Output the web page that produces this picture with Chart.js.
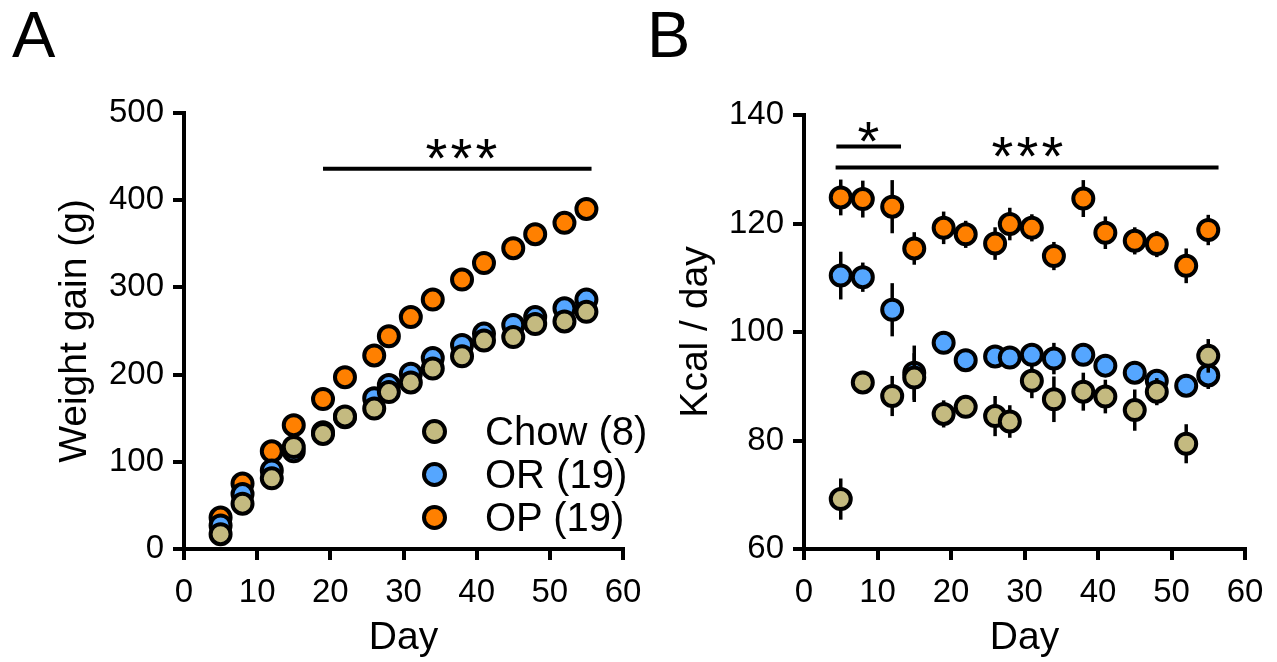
<!DOCTYPE html>
<html>
<head>
<meta charset="utf-8">
<script src="https://cdn.jsdelivr.net/npm/chart.js@4.4.1/dist/chart.umd.min.js"></script>
<style>
  body { margin: 0; background: #fff; font-family: "Liberation Sans", Arial, sans-serif; }
  #wrap { position: relative; width: 1277px; height: 662px; overflow: hidden; }
  canvas { position: absolute; top: 0; }
  .letter { position: absolute; font-size: 65px; line-height: 65px; color: #000; }
  #legendA { position: absolute; left: 422px; top: 410px; }
  .row { display: flex; align-items: center; height: 43px; font-size: 40px; line-height: 43px; color: #000; white-space: nowrap; }
  .dot { width: 17px; height: 17px; border: 4px solid #000; border-radius: 50%; margin-right: 38px; }
</style>
</head>
<body>
<div id="wrap">
  <div class="letter" style="left:12px; top:2px;">A</div>
  <div class="letter" style="left:647px; top:2px;">B</div>
  <canvas id="chartA" width="660" height="662" style="left:0;"></canvas>
  <canvas id="chartB" width="637" height="662" style="left:640px;"></canvas>
  <div id="legendA"></div>
</div>
<script>
const days = [5, 8, 12, 15, 19, 22, 26, 28, 31, 34, 38, 41, 45, 48, 52, 55];
const groupNames = ['Chow (8)', 'OR (19)', 'OP (19)'];
const groupColors = ['#C4BA80', '#55A6FF', '#FF8000'];
const xTicks = [0, 10, 20, 30, 40, 50, 60];

// A: weight gain (g)
const gainChow = [17, 52, 81, 117, 132, 152, 161, 180, 191, 207, 221, 239, 243, 258, 261, 272];
const gainOR = [27, 63, 90, 112, 134, 151, 173, 188, 201, 219, 234, 247, 257, 266, 276, 286];
const gainOP = [36, 75, 112, 142, 172, 197, 222, 244, 266, 286, 309, 328, 345, 361, 374, 390];
const yTicksA = [0, 100, 200, 300, 400, 500];

// B: intake (kcal / day) +- SEM
const kcalChow = [69.2, 90.7, 88.2, 91.6, 84.9, 86.2, 84.5, 83.5, 91.0, 87.6, 89.0, 88.1, 85.6, 89.0, 79.4, 95.6];
const semChow = [3.8, 1.5, 3.7, 4.5, 2.5, 2.0, 3.7, 3.0, 3.2, 4.2, 3.5, 3.1, 3.8, 2.5, 3.6, 3.1];
const kcalOR = [110.4, 110.1, 104.1, 92.5, 98.0, 94.8, 95.5, 95.3, 95.8, 95.1, 95.8, 93.8, 92.5, 91.0, 90.1, 92.0];
const semOR = [4.4, 2.7, 4.9, 5.0, 1.5, 1.5, 1.5, 1.5, 2.0, 2.9, 1.5, 2.0, 2.0, 2.0, 1.5, 2.5];
const kcalOP = [124.8, 124.5, 123.1, 115.4, 119.2, 118.0, 116.3, 119.9, 119.2, 114.0, 124.6, 118.3, 116.8, 116.2, 112.2, 118.8];
const semOP = [3.3, 3.4, 4.9, 3.0, 3.0, 2.5, 3.0, 3.0, 2.5, 2.6, 3.4, 3.0, 2.5, 2.4, 3.2, 2.8];
const yTicksB = [60, 80, 100, 120, 140];

// significance marks: [xStart, xEnd, y] and [text, x, y(baseline)]
const sigBarsA = [[19, 55.7, 436]];
const sigTextA = [['***', 37.9, 426.5]];
const sigBarsB = [[4.4, 13.2, 134.2], [4.3, 56.4, 130.3]];
const sigTextB = [['*', 8.75, 131.7], ['***', 30.4, 129.0]];

Chart.defaults.font.family = '"Liberation Sans", Arial, sans-serif';
Chart.defaults.color = '#000';

// vertical SEM whiskers, drawn just under each dataset's own markers
const errorBars = {
  id: 'errorBars',
  beforeDatasetDraw(chart, args) {
    const ds = chart.data.datasets[args.index];
    if (!ds.sem) return;
    const { ctx, scales: { x, y } } = chart;
    ctx.save();
    ctx.strokeStyle = '#000';
    ctx.lineWidth = 3.5;
    ds.data.forEach((p, i) => {
      const px = x.getPixelForValue(p.x);
      ctx.beginPath();
      ctx.moveTo(px, y.getPixelForValue(p.y - ds.sem[i]));
      ctx.lineTo(px, y.getPixelForValue(p.y + ds.sem[i]));
      ctx.stroke();
    });
    ctx.restore();
  }
};

function sigMarks(bars, texts) {
  return {
    id: 'sigMarks',
    afterDatasetsDraw(chart) {
      const { ctx, scales: { x, y } } = chart;
      ctx.save();
      ctx.strokeStyle = '#000';
      ctx.lineWidth = 4;
      bars.forEach(b => {
        const py = y.getPixelForValue(b[2]);
        ctx.beginPath();
        ctx.moveTo(x.getPixelForValue(b[0]), py);
        ctx.lineTo(x.getPixelForValue(b[1]), py);
        ctx.stroke();
      });
      ctx.fillStyle = '#000';
      ctx.font = '56px "Liberation Sans", Arial, sans-serif';
      ctx.textBaseline = 'alphabetic';
      ctx.textAlign = 'center';
      texts.forEach(t => {
        const cx = x.getPixelForValue(t[1]);
        const py = y.getPixelForValue(t[2]);
        const n = t[0].length;
        for (let k = 0; k < n; k++) {
          ctx.fillText('*', cx + (k - (n - 1) / 2) * 25, py);
        }
      });
      ctx.restore();
    }
  };
}

function series(values) {
  return values.map((v, i) => ({ x: days[i], y: v }));
}

function makeDatasets(lists, sems) {
  return lists.map((vals, i) => ({
    label: groupNames[i],
    data: series(vals),
    sem: sems ? sems[i] : null,
    backgroundColor: groupColors[i],
    borderColor: '#000',
    pointRadius: 10,
    pointHoverRadius: 10,
    pointBorderWidth: 4,
    showLine: false,
    clip: false
  }));
}

function axisStyle() {
  return {
    grid: { drawOnChartArea: false, drawTicks: true, tickLength: 11, color: '#000', lineWidth: 4 },
    border: { display: true, color: '#000', width: 4 }
  };
}

function makeOptions(yTicks, yTitle, pad, yWidth) {
  return {
    responsive: false,
    animation: false,
    events: [],
    layout: { padding: pad },
    plugins: { legend: { display: false }, tooltip: { enabled: false } },
    scales: {
      x: {
        type: 'linear',
        min: xTicks[0], max: xTicks[xTicks.length - 1],
        afterBuildTicks: s => { s.ticks = xTicks.map(v => ({ value: v })); },
        ticks: { font: { size: 33 }, padding: 13, maxRotation: 0, color: '#000' },
        title: { display: true, text: 'Day', font: { size: 39 }, color: '#000', padding: { top: 0, bottom: 0 } },
        afterFit: s => { s.height = 113; },
        ...axisStyle()
      },
      y: {
        type: 'linear',
        min: yTicks[0], max: yTicks[yTicks.length - 1],
        afterBuildTicks: s => { s.ticks = yTicks.map(v => ({ value: v })); },
        ticks: { font: { size: 33 }, padding: 9, color: '#000' },
        title: { display: true, text: yTitle, font: { size: 39 }, color: '#000', padding: { top: 4, bottom: 0 } },
        afterFit: s => { s.width = yWidth; },
        ...axisStyle()
      }
    }
  };
}

new Chart(document.getElementById('chartA'), {
  type: 'scatter',
  data: { datasets: makeDatasets([gainChow, gainOR, gainOP]) },
  options: makeOptions(yTicksA, 'Weight gain (g)', { left: 48, top: 113, right: 37, bottom: 0 }, 136),
  plugins: [sigMarks(sigBarsA, sigTextA)]
});

new Chart(document.getElementById('chartB'), {
  type: 'scatter',
  data: { datasets: makeDatasets([kcalChow, kcalOR, kcalOP], [semChow, semOR, semOP]) },
  options: makeOptions(yTicksB, 'Kcal / day', { left: 29, top: 115, right: 32, bottom: 0 }, 135),
  plugins: [errorBars, sigMarks(sigBarsB, sigTextB)]
});

// legend (panel A)
const legend = document.getElementById('legendA');
groupNames.forEach((name, i) => {
  const row = document.createElement('div');
  row.className = 'row';
  const dot = document.createElement('span');
  dot.className = 'dot';
  dot.style.background = groupColors[i];
  const label = document.createElement('span');
  label.textContent = name;
  row.appendChild(dot);
  row.appendChild(label);
  legend.appendChild(row);
});
</script>
</body>
</html>
